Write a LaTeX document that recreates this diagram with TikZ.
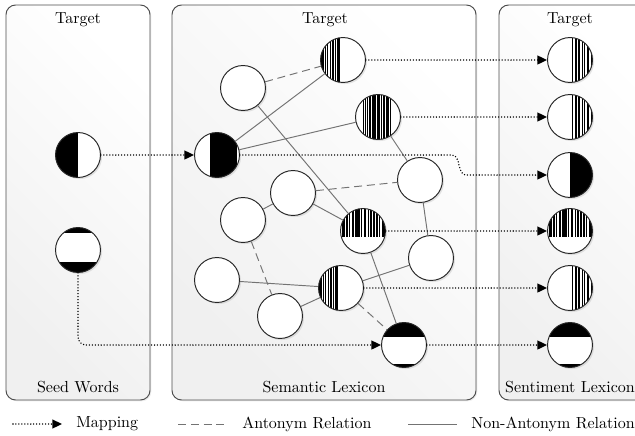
\documentclass[tikz,border=0pt]{standalone}
\usetikzlibrary{shadows,arrows.meta}
\begin{document}
\begin{tikzpicture}[x=0.625pt,y=-0.625pt,
  panel/.style={draw=black!70, line width=0.6pt, rounded corners=6pt,
    top color=white, bottom color=black!6, shading angle=-45,
    drop shadow={shadow xshift=0.8pt,shadow yshift=-0.8pt,opacity=0.15}},
  word/.style={circle, draw=black!85, line width=0.6pt, fill=white,
    minimum size=28.1pt, inner sep=0pt,
    drop shadow={shadow xshift=1pt,shadow yshift=-1pt,opacity=0.2}},
  lhalf/.style={path picture={\fill[black] (path picture bounding box.center) ++(-25,-25) rectangle ++(25,50);}},
  rhalf/.style={path picture={\fill[black] (path picture bounding box.center) ++(0,-25) rectangle ++(25,50);}},
  dblk/.style={path picture={\fill[black] (path picture bounding box.center) ++(-7,-25) rectangle ++(27,50);}},
  seedcap/.style={path picture={\fill[black] (path picture bounding box.center) ++(-25,-25) rectangle ++(50,8);
     \fill[black] (path picture bounding box.center) ++(-25,12) rectangle ++(50,13);}},
  mcap/.style={path picture={\fill[black] (path picture bounding box.center) ++(-25,-25) rectangle ++(50,17);
     \fill[black] (path picture bounding box.center) ++(-25,19) rectangle ++(50,6);}},
  bars/.style 2 args={path picture={\foreach \a/\w in {#1}
     \fill[black] (path picture bounding box.center) ++(\a,-25) rectangle ++(\w,#2);}},
  lbars/.style={bars={-23/3.5,-18.5/1.3,-16.2/1.6,-13.2/1,-11.2/2,-8/1.3,-5.8/2.6}{50}},
  rbars/.style={bars={2/1.2,4.8/1.8,8.2/1.6,11.5/1.5,14.3/1,16.6/2.4,20.6/4}{50}},
  cbars/.style={bars={-15.5/1.3,-13.2/1.6,-10.6/1,-8.8/2.2,-5.6/1.1,-3.6/1.8,-0.8/2.8,3.2/1,5.2/1.8,8.4/2.4,12.2/1.1}{50}},
  tbars/.style={bars={-21/2.5,-17/1.8,-13.8/1.1,-11.5/2.4,-7.6/1.1,-5.6/2.2,-2.2/1.4,0.6/2.6,4.5/1.1,6.8/2.3,10.4/1.1,12.6/2.2,16/1.4,18.6/3}{31}},
  rel/.style={draw=black!55, line width=0.6pt},
  ant/.style={rel, dash pattern=on 5pt off 3pt},
  map/.style={draw=black, line width=0.95pt, line cap=round, dash pattern=on 0pt off 1.85pt,
    -{Triangle[length=6pt,width=5.5pt]}},
  lab/.style={font=\normalsize, inner sep=0pt}
]
\useasboundingbox (0,0) rectangle (635,435);
\clip (0,0) rectangle (635,435);

% panels
\path[panel] (6,5) rectangle (150,400);
\path[panel] (172,5) rectangle (476,400);
\path[panel] (499,5) rectangle (645,400);

\node[lab] (t1) at (78,20) {Target};
\node[lab] (t2) at (325,20) {Target};
\node[lab] (t3) at (570,20) {Target};
\node[lab] (b1) at (78,387) {Seed Words};
\node[lab] (b2) at (324,387) {Semantic Lexicon};
\node[lab] (b3) at (570,387) {Sentiment Lexicon};

% seed words
\node[word, lhalf] (s1) at (78,155) {};
\node[word, seedcap] (s2) at (78,250) {};

% semantic lexicon
\node[word] (A) at (243,88) {};
\node[word, lbars] (B) at (343,60) {};
\node[word, cbars] (C) at (378,117) {};
\node[word, dblk] (D) at (217,155) {};
\node[word] (E) at (420,180) {};
\node[word] (F) at (293,193) {};
\node[word] (G) at (243,220) {};
\node[word, tbars] (H) at (363,231) {};
\node[word] (I) at (431,258) {};
\node[word] (J) at (217,280) {};
\node[word, lbars] (K) at (341,288) {};
\node[word] (L) at (280,316) {};
\node[word, mcap] (M) at (404,345) {};

% sentiment lexicon
\node[word, rbars] (R1) at (570,60) {};
\node[word, rbars] (R2) at (570,117) {};
\node[word, rhalf] (R3) at (570,175) {};
\node[word, tbars] (R4) at (570,231) {};
\node[word, rbars] (R5) at (570,288) {};
\node[word, mcap] (R6) at (570,345) {};

% relations
\draw[ant] (A) -- (B);
\draw[rel] (D) -- (B);
\draw[rel] (D) -- (C);
\draw[rel] (A) -- (H);
\draw[rel] (C) -- (E);
\draw[ant] (F) -- (E);
\draw[rel] (F) -- (H);
\draw[rel] (G) -- (F);
\draw[rel] (E) -- (I);
\draw[ant] (G) -- (L);
\draw[rel] (J) -- (K);
\draw[rel] (L) -- (K);
\draw[rel] (K) -- (I);
\draw[ant] (K) -- (M);
\draw[rel] (H) -- (M);

% mappings
\draw[map] (s1) -- (D);
\draw[map, rounded corners=5pt] (s2.south) -- (s2.south |- M.west) -- (M.west);
\draw[map] (B) -- (R1);
\draw[map] (C) -- (R2);
\coordinate (w1) at (452,155);
\coordinate (w2) at (466,175);
\draw[map] (D.east) -- (w1) .. controls (461,155) and (457,175) .. (w2) -- (R3.west);
\draw[map] (H) -- (R4);
\draw[map] (K) -- (R5);
\draw[map] (M) -- (R6);

% legend
\coordinate (m1) at (13,424);
\coordinate (m2) at (62,424);
\draw[map] (m1) -- (m2);
\node[lab, anchor=west] (mt) at (76,424) {Mapping};
\coordinate (a1) at (178,424);
\coordinate (a2) at (227,424);
\draw[ant] (a1) -- (a2);
\node[lab, anchor=west] (at) at (242,424) {Antonym Relation};
\coordinate (n1) at (408,424);
\coordinate (n2) at (457,424);
\draw[rel] (n1) -- (n2);
\node[lab, anchor=west] (nt) at (471,424) {Non-Antonym Relation};
\end{tikzpicture}
\end{document}
